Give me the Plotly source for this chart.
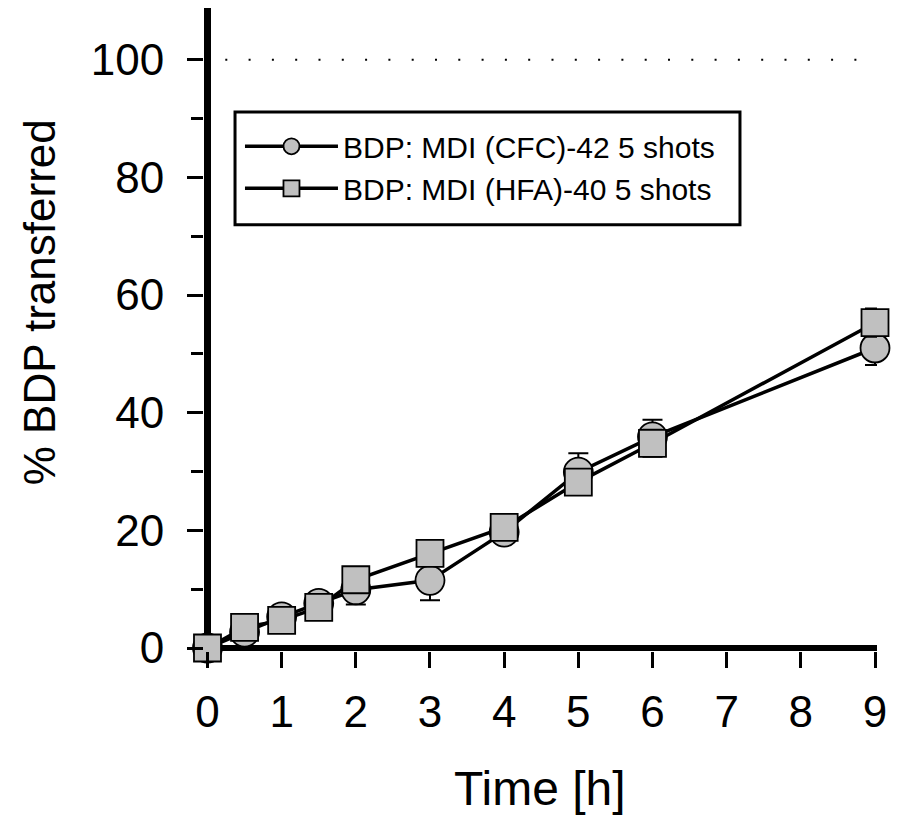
import plotly.graph_objects as go

# ---- data ----
time_h = [0, 0.5, 1, 1.5, 2, 3, 4, 5, 6, 9]
cfc_mean = [0, 2.7, 5.3, 7.6, 9.9, 11.5, 19.7, 29.9, 35.9, 51.0]
cfc_sd = [0.3, 0.8, 0.8, 0.8, 2.5, 3.4, 1.0, 3.2, 2.9, 2.9]
hfa_mean = [0, 3.5, 4.7, 6.9, 11.6, 16.1, 20.5, 28.2, 34.8, 55.3]
hfa_sd = [0.3, 0.6, 0.8, 0.8, 1.0, 1.2, 1.0, 1.5, 2.3, 2.4]
series_names = ["BDP: MDI (CFC)-42 5 shots", "BDP: MDI (HFA)-40 5 shots"]
x_ticks = [0, 1, 2, 3, 4, 5, 6, 7, 8, 9]
y_ticks = [0, 20, 40, 60, 80, 100]
y_minor_ticks = [10, 30, 50, 70, 90]
ref_level = 100
x_title = "Time [h]"
y_title = "% BDP transferred"

FONT = "Liberation Sans, Arial, sans-serif"
GREY = "#c0c0c0"

fig = go.Figure()
fig.add_trace(go.Scatter(
    x=time_h, y=cfc_mean, name=series_names[0], mode="lines+markers",
    line=dict(color="black", width=3.5),
    marker=dict(symbol="circle", size=29, color=GREY, line=dict(color="black", width=1.8)),
    error_y=dict(type="data", array=cfc_sd, visible=True, color="black", thickness=2, width=10),
    cliponaxis=False,
))
fig.add_trace(go.Scatter(
    x=time_h, y=hfa_mean, name=series_names[1], mode="lines+markers",
    line=dict(color="black", width=3.5),
    marker=dict(symbol="square", size=27, color=GREY, line=dict(color="black", width=1.8)),
    error_y=dict(type="data", array=hfa_sd, visible=True, color="black", thickness=2, width=10),
    cliponaxis=False,
))

# dotted reference line at 100 %
fig.add_shape(type="line", xref="x", yref="y", x0=0.24, x1=9.0, y0=ref_level, y1=ref_level,
              line=dict(color="black", width=2, dash="2px,21.3px"), layer="below")
# legend frame
fig.add_shape(type="rect", xref="paper", yref="paper", x0=0.0461, x1=0.7964, y0=0.6628, y1=0.8384,
              line=dict(color="black", width=3), fillcolor="white", layer="below")

fig.update_xaxes(
    range=[-0.047, 9.027], tickvals=x_ticks, ticks="outside", ticklen=16, tickwidth=3,
    tickcolor="black", showgrid=False, showline=False, ticklabelstandoff=6,
    zeroline=True, zerolinecolor="black", zerolinewidth=7,
    tickfont=dict(family=FONT, size=44, color="black"),
)
fig.update_yaxes(
    range=[-0.51, 108.8], tickvals=y_ticks, ticks="outside", ticklen=16, tickwidth=3,
    tickcolor="black", showgrid=False, showline=False, ticklabelstandoff=14,
    zeroline=True, zerolinecolor="black", zerolinewidth=6,
    tickfont=dict(family=FONT, size=44, color="black"),
    minor=dict(tickvals=y_minor_ticks, ticks="outside", ticklen=12, tickwidth=3, tickcolor="black"),
)

fig.add_annotation(text=x_title, xref="paper", yref="paper", x=0.4993, y=-0.2145,
                   xanchor="center", yanchor="middle", showarrow=False,
                   font=dict(family=FONT, size=48, color="black"))
fig.add_annotation(text=y_title, xref="paper", yref="paper", x=-0.2444, y=0.5416,
                   xanchor="center", yanchor="middle", showarrow=False, textangle=-90,
                   font=dict(family=FONT, size=44, color="black"))

fig.update_layout(
    width=892, height=809,
    margin=dict(l=196, r=23, t=0, b=165.5),
    plot_bgcolor="white", paper_bgcolor="white",
    showlegend=True,
    legend=dict(x=0.049, y=0.830, xanchor="left", yanchor="top",
                bordercolor="rgba(0,0,0,0)", borderwidth=3, bgcolor="rgba(0,0,0,0)",
                font=dict(family=FONT, size=30, color="black"), itemwidth=93),
    font=dict(family=FONT, color="black"),
)

fig.write_html("out.html")
